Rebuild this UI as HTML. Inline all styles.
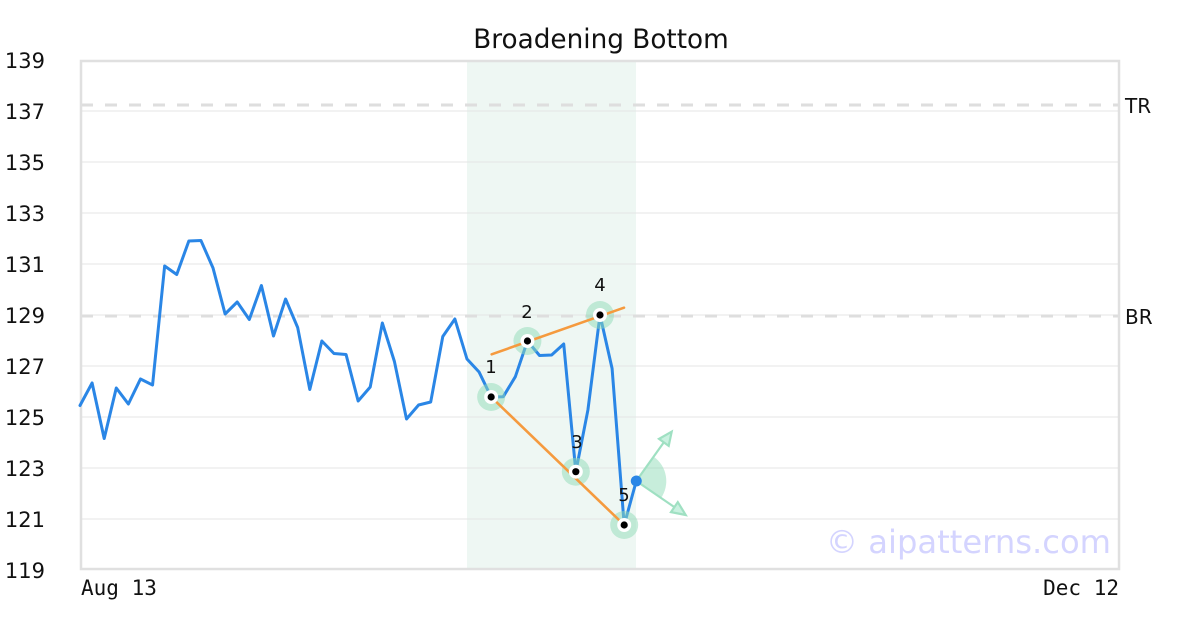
<!DOCTYPE html>
<html>
<head>
<meta charset="utf-8">
<style>
  html, body { margin:0; padding:0; background:#ffffff; }
  svg { display:block; }
  text { font-family: "DejaVu Sans", "Liberation Sans", sans-serif; }
  .mono { font-family: "DejaVu Sans Mono", "Liberation Mono", monospace; }
</style>
</head>
<body>
<svg width="1200" height="630" viewBox="0 0 1200 630" xmlns="http://www.w3.org/2000/svg">
  <rect x="0" y="0" width="1200" height="630" fill="#ffffff"/>
  <!-- pattern band -->
  <rect x="467" y="61" width="169" height="508" fill="#eef7f3"/>
  <!-- grid -->
  <g stroke="#e4e4e4" stroke-width="1">
    <line x1="80" y1="111" x2="1120" y2="111"/>
    <line x1="80" y1="162" x2="1120" y2="162"/>
    <line x1="80" y1="213" x2="1120" y2="213"/>
    <line x1="80" y1="264" x2="1120" y2="264"/>
    <line x1="80" y1="315" x2="1120" y2="315"/>
    <line x1="80" y1="366" x2="1120" y2="366"/>
    <line x1="80" y1="417" x2="1120" y2="417"/>
    <line x1="80" y1="468" x2="1120" y2="468"/>
    <line x1="80" y1="519" x2="1120" y2="519"/>
  </g>
  <!-- TR / BR dashed -->
  <g stroke="#dedede" stroke-width="3" stroke-dasharray="12 12">
    <line x1="81" y1="105" x2="1120" y2="105"/>
    <line x1="81" y1="316" x2="1120" y2="316"/>
  </g>
  <!-- frame -->
  <rect x="81" y="61" width="1038" height="508" fill="none" stroke="#e0e0e0" stroke-width="2.5"/>

  <!-- title -->
  <text x="601" y="48" font-size="26.3" text-anchor="middle" fill="#111">Broadening Bottom</text>

  <!-- y labels -->
  <g font-size="21" fill="#111" text-anchor="end">
    <text x="45" y="68">139</text>
    <text x="45" y="119">137</text>
    <text x="45" y="170">135</text>
    <text x="45" y="221">133</text>
    <text x="45" y="272">131</text>
    <text x="45" y="323">129</text>
    <text x="45" y="374">127</text>
    <text x="45" y="425">125</text>
    <text x="45" y="476">123</text>
    <text x="45" y="527">121</text>
    <text x="45" y="578">119</text>
  </g>
  <g font-size="20" fill="#111">
    <text x="1125" y="113">TR</text>
    <text x="1125" y="324">BR</text>
  </g>
  <!-- x labels -->
  <text class="mono" x="81" y="595" font-size="21" fill="#111">Aug 13</text>
  <text class="mono" x="1119" y="595" font-size="21" fill="#111" text-anchor="end">Dec 12</text>

  <!-- watermark -->
  <text x="1111" y="553" font-size="32.2" fill="#d4d4ff" text-anchor="end">© aipatterns.com</text>

  <!-- price line -->
  <polyline fill="none" stroke="#2a86e6" stroke-width="3" stroke-linejoin="round" stroke-linecap="round"
    points="80,405.5 92.09,383 104.19,438.5 116.28,388 128.37,404 140.47,379 152.56,385 164.65,266 176.74,274.5 188.84,241 200.93,240.5 213.02,268 225.12,314 237.21,302 249.3,319.5 261.4,285.5 273.49,336 285.58,299 297.67,327.5 309.77,389.5 321.86,341 333.95,353.5 346.05,354.5 358.14,401 370.23,387 382.33,323 394.42,361.5 406.51,419 418.6,405 430.7,402 442.79,336.5 454.88,319 466.98,359 479.07,372 491.16,397 503.26,396.7 515.35,376.7 527.44,341 539.53,355.5 551.63,355 563.72,344 575.81,471.7 587.91,410 600,315 612.09,368.5 624.19,525 636.28,481"/>

  <!-- green halos -->
  <g fill="#8fdcb8" fill-opacity="0.5">
    <circle cx="491.16" cy="397" r="14"/>
    <circle cx="527.44" cy="341" r="14"/>
    <circle cx="575.81" cy="471.7" r="14"/>
    <circle cx="600" cy="315" r="14"/>
    <circle cx="624.19" cy="525" r="14"/>
  </g>

  <!-- orange trend lines -->
  <g stroke="#f59a3e" stroke-width="2.6" stroke-linecap="round">
    <line x1="491.7" y1="354.3" x2="624" y2="307.7"/>
    <line x1="491.16" y1="397" x2="624.19" y2="525"/>
  </g>

  <!-- pivot points -->
  <g>
    <circle cx="491.16" cy="397" r="7" fill="#fff"/><circle cx="491.16" cy="397" r="3.6" fill="#000"/>
    <circle cx="527.44" cy="341" r="7" fill="#fff"/><circle cx="527.44" cy="341" r="3.6" fill="#000"/>
    <circle cx="575.81" cy="471.7" r="7" fill="#fff"/><circle cx="575.81" cy="471.7" r="3.6" fill="#000"/>
    <circle cx="600" cy="315" r="7" fill="#fff"/><circle cx="600" cy="315" r="3.6" fill="#000"/>
    <circle cx="624.19" cy="525" r="7" fill="#fff"/><circle cx="624.19" cy="525" r="3.6" fill="#000"/>
  </g>
  <g font-size="18" fill="#111" text-anchor="middle">
    <text x="491" y="373">1</text>
    <text x="527" y="318">2</text>
    <text x="577" y="448">3</text>
    <text x="600" y="291">4</text>
    <text x="624" y="501">5</text>
  </g>

  <!-- projection wedge & arrows -->
  <path d="M636.28,481 L653.8,456.7 A30,30 0 0 1 660.9,498.2 Z" fill="#8fdcb8" fill-opacity="0.5"/>
  <g stroke="#9fe0c2" stroke-width="2.2" fill="#bfeeda" fill-opacity="0.85">
    <line x1="636.28" y1="481" x2="663.8" y2="442.4"/>
    <polygon points="671.7,431.7 668.7,445.9 659,438.9"/>
    <line x1="636.28" y1="481" x2="674.4" y2="507.1"/>
    <polygon points="685.7,515 671,512.1 677.8,502.1"/>
  </g>
  <circle cx="636.28" cy="481" r="5.5" fill="#2a86e6"/>
</svg>
</body>
</html>
